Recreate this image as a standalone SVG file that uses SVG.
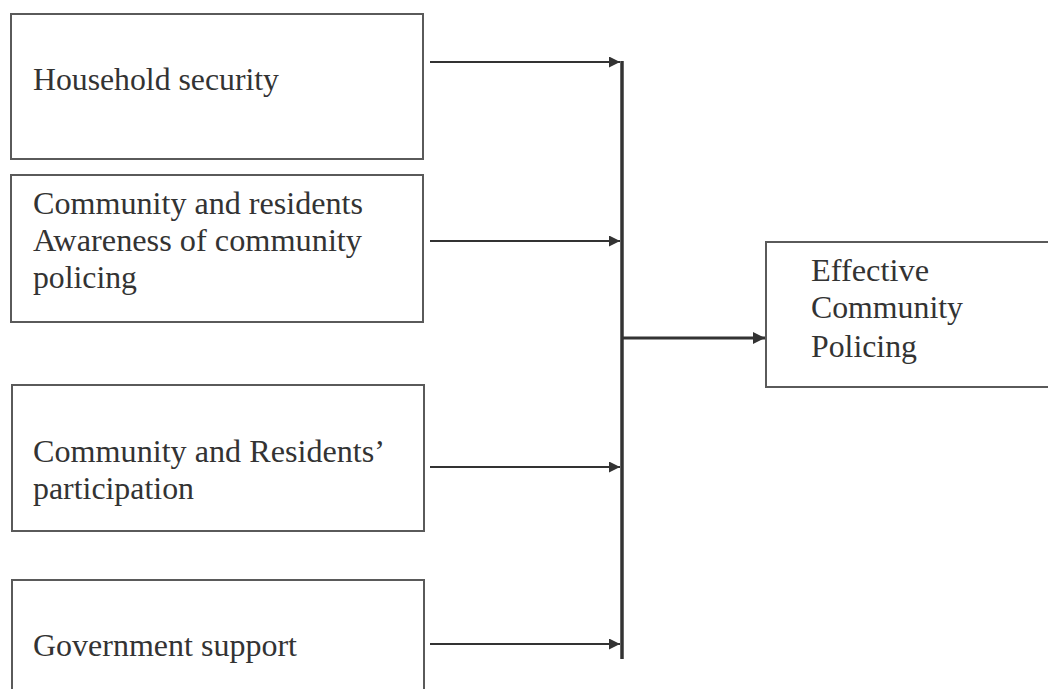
<svg xmlns="http://www.w3.org/2000/svg" width="1048" height="689" viewBox="0 0 1048 689">
<defs>
<style>
.box{fill:#fff;stroke:#5a5a5a;stroke-width:2}
.t{font-family:"Liberation Serif","Times New Roman",serif;font-size:31px;fill:#333}
.c{stroke:#333;fill:none}
</style>
<marker id="ah" viewBox="0 0 10 10" refX="10" refY="5" markerWidth="13" markerHeight="11" markerUnits="userSpaceOnUse" orient="auto">
<path d="M0,0 L10,5 L0,10 z" fill="#333"/>
</marker>
<marker id="ah2" viewBox="0 0 10 10" refX="10" refY="5" markerWidth="15" markerHeight="12" markerUnits="userSpaceOnUse" orient="auto">
<path d="M0,0 L10,5 L0,10 z" fill="#333"/>
</marker>
</defs>
<rect width="1048" height="689" fill="#fff"/>
<g id="n1"><rect class="box" x="11" y="14" width="412" height="145"/>
<text class="t" x="33" y="90" textLength="246" lengthAdjust="spacingAndGlyphs">Household security</text></g>
<g id="n2"><rect class="box" x="11" y="175" width="412" height="147"/>
<text class="t" x="33" y="214" textLength="330" lengthAdjust="spacingAndGlyphs">Community and residents</text>
<text class="t" x="33" y="251" textLength="329" lengthAdjust="spacingAndGlyphs">Awareness of community</text>
<text class="t" x="33" y="288" textLength="104" lengthAdjust="spacingAndGlyphs">policing</text></g>
<g id="n3"><rect class="box" x="12" y="385" width="412" height="146"/>
<text class="t" x="33" y="462" textLength="352" lengthAdjust="spacingAndGlyphs">Community and Residents’</text>
<text class="t" x="33" y="499" textLength="161" lengthAdjust="spacingAndGlyphs">participation</text></g>
<g id="n4"><rect class="box" x="12" y="580" width="412" height="120"/>
<text class="t" x="33" y="656" textLength="264" lengthAdjust="spacingAndGlyphs">Government support</text></g>
<g id="n5"><rect class="box" x="766" y="242" width="300" height="145"/>
<text class="t" x="811" y="281" textLength="118" lengthAdjust="spacingAndGlyphs">Effective</text>
<text class="t" x="811" y="318" textLength="152" lengthAdjust="spacingAndGlyphs">Community</text>
<text class="t" x="811" y="357" textLength="106" lengthAdjust="spacingAndGlyphs">Policing</text></g>
<g id="connectors">
<line class="c" stroke-width="2" x1="430" y1="62" x2="620" y2="62" marker-end="url(#ah)"/>
<line class="c" stroke-width="2" x1="430" y1="241" x2="620" y2="241" marker-end="url(#ah)"/>
<line class="c" stroke-width="2" x1="430" y1="467" x2="620" y2="467" marker-end="url(#ah)"/>
<line class="c" stroke-width="2" x1="430" y1="644" x2="620" y2="644" marker-end="url(#ah)"/>
<line class="c" stroke-width="3.5" x1="622" y1="61" x2="622" y2="659"/>
<line class="c" stroke-width="3" x1="622" y1="338" x2="765" y2="338" marker-end="url(#ah2)"/>
</g>
</svg>
